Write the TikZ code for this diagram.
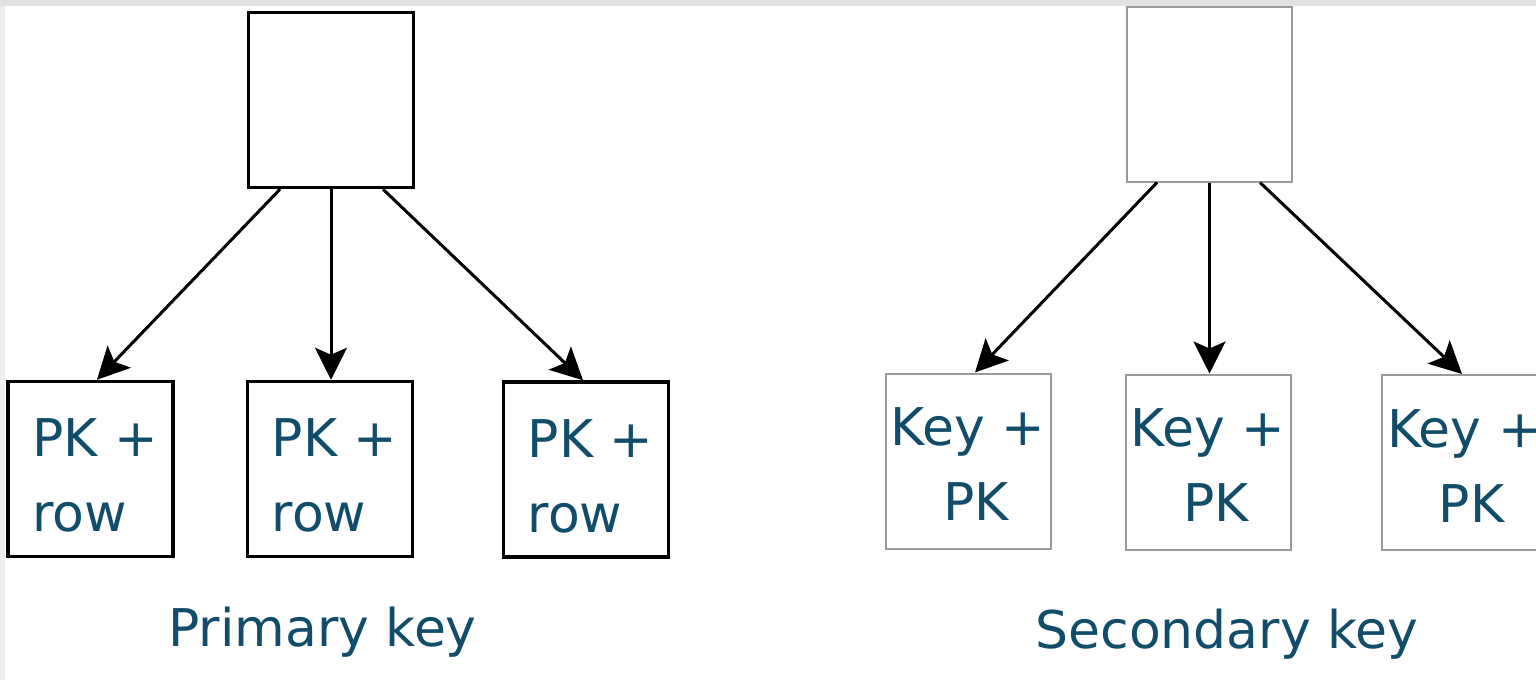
\documentclass[tikz,border=0pt]{standalone}
\usepackage{fontspec}
\setmainfont{DejaVu Sans}
\usetikzlibrary{arrows.meta}
\definecolor{labelblue}{HTML}{114C6B}
\definecolor{topband}{HTML}{E2E2E2}
\definecolor{sideband}{HTML}{EEEEEE}
\definecolor{lightframe}{HTML}{9A9A9A}
\begin{document}
\begin{tikzpicture}[x=1pt,y=-1pt,
  txt/.style={text=labelblue, font=\fontsize{52}{75}\selectfont},
  pkbox/.style={draw=black, line width=3.5pt, minimum width=165pt, minimum height=175pt,
    inner sep=0pt, txt, align=left},
  skbox/.style={draw=lightframe, line width=2pt, minimum width=165pt, minimum height=175pt,
    inner sep=0pt, txt, align=center},
  link/.style={line width=3pt, -{Stealth[length=32pt,width=32pt,inset=7pt]}},
]
\useasboundingbox (0,0) rectangle (1536,680);
\fill[white] (0,0) rectangle (1536,680);

% primary key tree
\node[pkbox] (ptop) at (331,100) {};
\node[pkbox] (pb1) at (90.5,469) {\rule{0pt}{51pt}\hspace*{9pt}PK +\\\hspace*{9pt}row};
\node[pkbox] (pb2) at (330,469) {\rule{0pt}{51pt}\hspace*{9pt}PK +\\\hspace*{9pt}row};
\node[pkbox] (pb3) at (586,469.5) {\rule{0pt}{51pt}\hspace*{9pt}PK +\\\hspace*{9pt}row};
\draw[link] ([xshift=-51pt]ptop.south) -- ([xshift=6.5pt]pb1.north);
\draw[link] (ptop.south) -- (ptop.south |- pb2.north);
\draw[link] ([xshift=52pt]ptop.south) -- ([xshift=-3pt]pb3.north);
\node[txt, anchor=base] (plabel) at (322.5,646) {Primary key};

% secondary key tree
\node[skbox] (stop) at (1209.5,94) {};
\node[skbox] (sb1) at (968,461) {\rule{0pt}{44pt}Key +\\\hspace*{16pt}PK};
\node[skbox] (sb2) at (1208,462) {\rule{0pt}{44pt}Key +\\\hspace*{16pt}PK};
\node[skbox] (sb3) at (1464.5,462.5) {\rule{0pt}{44pt}Key +\\\hspace*{14pt}PK};
\draw[link] ([xshift=-52.5pt]stop.south) -- ([xshift=7pt]sb1.north);
\draw[link] (stop.south) -- (stop.south |- sb2.north);
\draw[link] ([xshift=50.5pt]stop.south) -- ([xshift=-2.5pt]sb3.north);
\node[txt, anchor=base] (slabel) at (1227,648) {Secondary key};

% window frame edges
\fill[topband] (0,0) rectangle (1536,6);
\fill[sideband] (0,6) rectangle (5,680);
\end{tikzpicture}
\end{document}
